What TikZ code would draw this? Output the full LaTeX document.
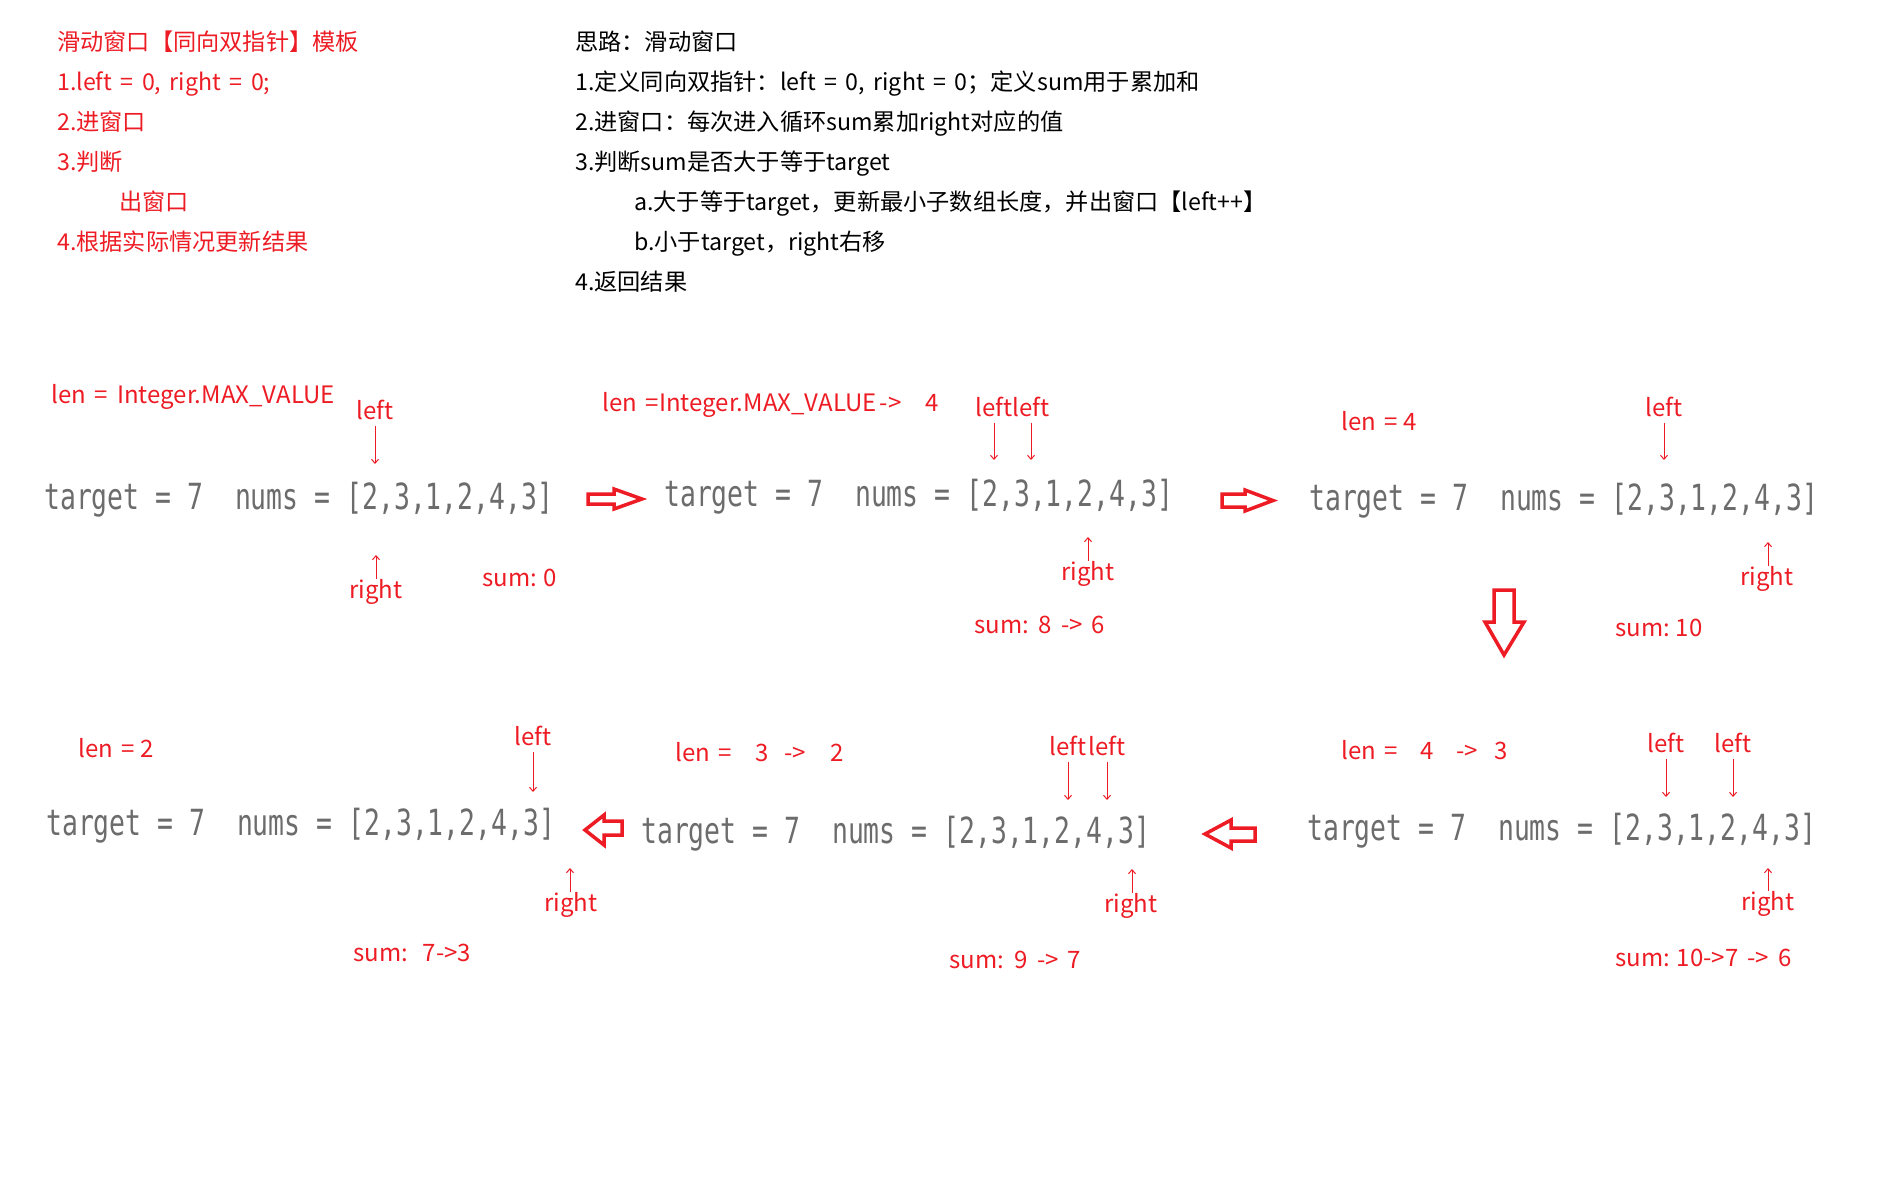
\documentclass[tikz,border=0pt]{standalone}
\usepackage{fontspec}
\setmainfont{Noto Sans CJK SC}
\newfontfamily\codefont{DejaVu Sans Mono}
\usetikzlibrary{arrows.meta}
\definecolor{pred}{RGB}{237,28,36}
\definecolor{codegray}{RGB}{108,108,108}
\newcommand\codeline{\scalebox{0.734}[1]{\codefont\fontsize{36}{40}\selectfont target = 7\ \ nums = [2,3,1,2,4,3]}}
\newcommand\topfont{\fontsize{23.2}{28}\selectfont\spaceskip 8.5pt\relax}
\newcommand\lblfont{\fontsize{24}{28}\selectfont\spaceskip 9pt\relax}
\begin{document}
\begin{tikzpicture}[x=1pt,y=-1pt,
  toptxt/.style={font=\topfont, inner sep=0pt, anchor=base west},
  rtop/.style={toptxt, text=pred},
  btxt/.style={toptxt, text=black},
  rtxt/.style={font=\lblfont, inner sep=0pt, anchor=base west, text=pred},
  lbl/.style={font=\lblfont, inner sep=0pt, anchor=base, text=pred},
  code/.style={inner sep=0pt, anchor=base west, text=codegray},
  ptr/.style={draw=pred, line width=1pt, -{Straight Barb[length=4pt,width=7pt]}},
  ptrdown/.style={ptr, shorten <=6pt},
  bigarrow/.style={draw=pred, line width=3.5pt, fill=white, line join=miter}
]
\useasboundingbox (0,0) rectangle (1900,1200);

% ---- red template text
\node[rtop] (t0) at (57,50.7) {滑动窗口【同向双指针】模板};
\node[rtop] (t1) at (57,90.7) {1.left = 0, right = 0;};
\node[rtop] (t2) at (57,130.7) {2.进窗口};
\node[rtop] (t3) at (57,170.7) {3.判断};
\node[rtop] (t4) at (119,210.7) {出窗口};
\node[rtop] (t5) at (57,250.7) {4.根据实际情况更新结果};

% ---- black idea text
\node[btxt] (s0) at (575,50.7) {思路：滑动窗口};
\node[btxt] (s1) at (575,90.7) {1.定义同向双指针：left = 0, right = 0；定义sum用于累加和};
\node[btxt] (s2) at (575,130.7) {2.进窗口：每次进入循环sum累加right对应的值};
\node[btxt] (s3) at (575,170.7) {3.判断sum是否大于等于target};
\node[btxt] (s4) at (634,210.7) {a.大于等于target，更新最小子数组长度，并出窗口【left++】};
\node[btxt] (s5) at (634,250.7) {b.小于target，right右移};
\node[btxt] (s6) at (575,290.7) {4.返回结果};

% ---- panel 1
\node[rtxt] (len1) at (51,403.3) {len = Integer.MAX\_VALUE};
\node[lbl] (l1) at (375,419.3) {left};
\node[code] (c1) at (44,509.3) {\codeline};
\node[lbl] (r1) at (376,598) {right};
\node[rtxt] (sum1) at (482,586) {sum:\hspace{7pt}0};
\coordinate (p1l) at (375,464);
\coordinate (p1r) at (376,555);
\draw[ptrdown] (l1.south -| p1l) -- (p1l);
\draw[ptr] (r1.north -| p1r) -- (p1r);

% ---- panel 2
\node[rtxt] (len2) at (602,411.7) {len =Integer.MAX\_VALUE\hspace{3pt}->\hspace{24pt}4};
\node[lbl] (l2a) at (994,416) {left};
\node[lbl] (l2b) at (1031,416) {left};
\node[code] (c2) at (664,506.7) {\codeline};
\node[lbl] (r2) at (1088,580) {right};
\node[rtxt] (sum2) at (974,633) {sum:\hspace{10pt}8 -> 6};
\coordinate (p2la) at (994,460);
\coordinate (p2lb) at (1031,460);
\coordinate (p2r) at (1088,537);
\draw[ptrdown] (l2a.south -| p2la) -- (p2la);
\draw[ptrdown] (l2b.south -| p2lb) -- (p2lb);
\draw[ptr] (r2.north -| p2r) -- (p2r);

% ---- panel 3
\node[rtxt] (len3) at (1341,430.7) {len =\hspace{5pt}4};
\node[lbl] (l3) at (1664,416) {left};
\node[code] (c3) at (1309,510.7) {\codeline};
\node[lbl] (r3) at (1767,585) {right};
\node[rtxt] (sum3) at (1615,636) {sum:\hspace{6pt}10};
\coordinate (p3l) at (1664,460);
\coordinate (p3r) at (1768,542);
\draw[ptrdown] (l3.south -| p3l) -- (p3l);
\draw[ptr] (r3.north -| p3r) -- (p3r);

% ---- panel 4
\node[rtxt] (len4) at (78,757) {len =\hspace{5pt}2};
\node[lbl] (l4) at (533,745.7) {left};
\node[code] (c4) at (46,835) {\codeline};
\node[lbl] (r4) at (571,911.7) {right};
\node[rtxt] (sum4) at (353,961) {sum:\hspace{15pt}7->3};
\coordinate (p4l) at (533,792);
\coordinate (p4r) at (570,868);
\draw[ptrdown] (l4.south -| p4l) -- (p4l);
\draw[ptr] (r4.north -| p4r) -- (p4r);

% ---- panel 5
\node[rtxt] (len5) at (675,761.7) {len =\hspace{23pt}3\hspace{16pt}->\hspace{24pt}2};
\node[lbl] (l5a) at (1068,755) {left};
\node[lbl] (l5b) at (1107,755) {left};
\node[code] (c5) at (641,843.3) {\codeline};
\node[lbl] (r5) at (1131,912.7) {right};
\node[rtxt] (sum5) at (949,968) {sum: 9 -> 7};
\coordinate (p5la) at (1068,800);
\coordinate (p5lb) at (1107,800);
\coordinate (p5r) at (1132,869);
\draw[ptrdown] (l5a.south -| p5la) -- (p5la);
\draw[ptrdown] (l5b.south -| p5lb) -- (p5lb);
\draw[ptr] (r5.north -| p5r) -- (p5r);

% ---- panel 6
\node[rtxt] (len6) at (1341,759) {len =\hspace{22pt}4\hspace{23pt}->\hspace{16pt}3};
\node[lbl] (l6a) at (1666,752.7) {left};
\node[lbl] (l6b) at (1733,752.7) {left};
\node[code] (c6) at (1307,840) {\codeline};
\node[lbl] (r6) at (1768,910.7) {right};
\node[rtxt] (sum6) at (1615,966) {sum:\hspace{7pt}10->7 -> 6};
\coordinate (p6la) at (1666,797);
\coordinate (p6lb) at (1733,797);
\coordinate (p6r) at (1768,868);
\draw[ptrdown] (l6a.south -| p6la) -- (p6la);
\draw[ptrdown] (l6b.south -| p6lb) -- (p6lb);
\draw[ptr] (r6.north -| p6r) -- (p6r);

% ---- big hollow arrows
\draw[bigarrow] (588,494) -- (614,494) -- (614,489) -- (642,499) -- (614,509) -- (614,504) -- (588,504) -- cycle;
\draw[bigarrow] (1222,494) -- (1245,494) -- (1245,490) -- (1273,500.5) -- (1245,511) -- (1245,507) -- (1222,507) -- cycle;
\draw[bigarrow] (1494,590) -- (1514,590) -- (1514,622) -- (1524,622) -- (1504,655) -- (1485,622) -- (1494,622) -- cycle;
\draw[bigarrow] (1255,828) -- (1231,828) -- (1231,820) -- (1205,834) -- (1231,848) -- (1231,841) -- (1255,841) -- cycle;
\draw[bigarrow] (622,821) -- (604,821) -- (604,815) -- (585,830) -- (604,845) -- (604,835) -- (622,835) -- cycle;
\end{tikzpicture}
\end{document}
